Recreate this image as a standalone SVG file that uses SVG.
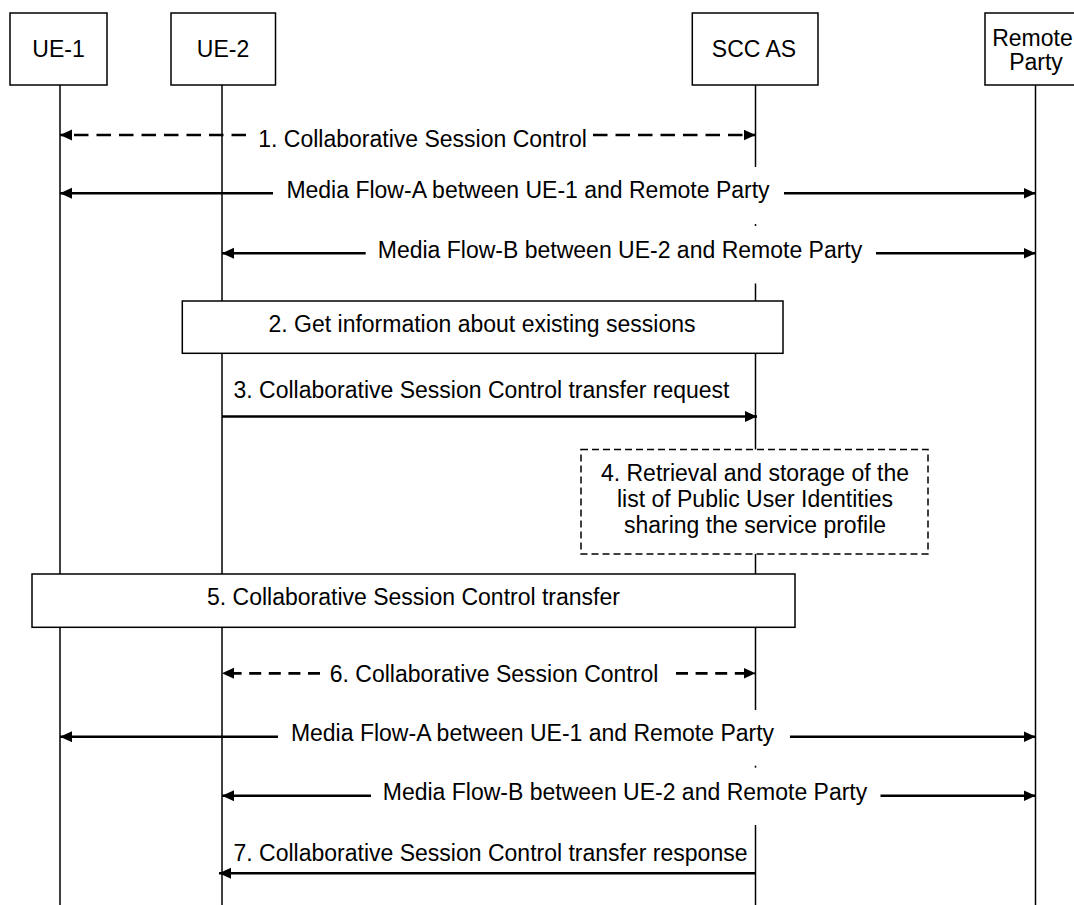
<svg xmlns="http://www.w3.org/2000/svg" width="1074" height="905" viewBox="0 0 1074 905">
<style>
  text { font-family: "Liberation Sans", Arial, sans-serif; font-size: 23px; fill: #000; }
  .mid { text-anchor: middle; }
  .box { fill: #fff; stroke: #000; stroke-width: 1.5; }
  .dbox { fill: #fff; stroke: #000; stroke-width: 1.5; stroke-dasharray: 7 4; }
  .life { stroke: #000; stroke-width: 1.5; fill: none; }
  .msg { stroke: #000; stroke-width: 2.5; fill: none; }
  .dash1 { stroke: #000; stroke-width: 2.7; fill: none; stroke-dasharray: 14.5 8; }
  .dash6 { stroke: #000; stroke-width: 2.7; fill: none; stroke-dasharray: 12 7.6; }
</style>
<defs>
  <marker id="ah" markerUnits="userSpaceOnUse" markerWidth="13" markerHeight="12" refX="12" refY="5.5" orient="auto">
    <path d="M0,0 L12,5.5 L0,11 z" fill="#000" stroke="none"/>
  </marker>
</defs>
<rect width="1074" height="905" fill="#fff"/>

<g id="lifelines">
  <line class="life" x1="60" y1="85" x2="60" y2="905"/>
  <line class="life" x1="222" y1="85" x2="222" y2="905"/>
  <line class="life" x1="755.5" y1="85" x2="755.5" y2="167"/>
  <line class="life" x1="755.5" y1="224" x2="755.5" y2="226"/>
  <line class="life" x1="755.5" y1="283.5" x2="755.5" y2="710"/>
  <line class="life" x1="755.5" y1="765.7" x2="755.5" y2="767.7"/>
  <line class="life" x1="755.5" y1="825" x2="755.5" y2="905"/>
  <line class="life" x1="1035.5" y1="85" x2="1035.5" y2="905"/>
</g>

<g id="node-ue1">
  <rect class="box" x="10" y="13" width="97" height="72"/>
  <text class="mid" x="58.5" y="57">UE-1</text>
</g>
<g id="node-ue2">
  <rect class="box" x="171" y="13" width="104.5" height="72"/>
  <text class="mid" x="223" y="57">UE-2</text>
</g>
<g id="node-sccas">
  <rect class="box" x="692.3" y="13" width="125.7" height="72"/>
  <text class="mid" x="754" y="57">SCC AS</text>
</g>
<g id="node-remote">
  <rect class="box" x="985" y="13" width="102" height="72"/>
  <text class="mid" x="1032.5" y="45.5">Remote</text>
  <text class="mid" x="1036" y="69.5">Party</text>
</g>

<g id="connectors">
  <!-- 1 -->
  <path class="dash1" d="M246,135 L60,135" marker-end="url(#ah)"/>
  <path class="dash1" d="M593,135 L755.5,135" marker-end="url(#ah)"/>
  <text class="mid" x="422.5" y="147">1. Collaborative Session Control</text>
  <!-- Media A top -->
  <path class="msg" d="M273,193.3 L60,193.3" marker-end="url(#ah)"/>
  <path class="msg" d="M784,193.3 L1035.5,193.3" marker-end="url(#ah)"/>
  <text class="mid" x="528" y="198.3">Media Flow-A between UE-1 and Remote Party</text>
  <!-- Media B top -->
  <path class="msg" d="M365.7,253.3 L222,253.3" marker-end="url(#ah)"/>
  <path class="msg" d="M876,253.3 L1035.5,253.3" marker-end="url(#ah)"/>
  <text class="mid" x="620" y="257.5">Media Flow-B between UE-2 and Remote Party</text>
  <!-- 3 -->
  <path class="msg" d="M222,416.5 L757,416.5" marker-end="url(#ah)"/>
  <text class="mid" x="481.5" y="398">3. Collaborative Session Control transfer request</text>
  <!-- 6 -->
  <path class="dash6" d="M320,673.3 L222,673.3" marker-end="url(#ah)"/>
  <path class="dash6" d="M676,673.3 L755.5,673.3" marker-end="url(#ah)"/>
  <text class="mid" x="494" y="681.7">6. Collaborative Session Control</text>
  <!-- Media A bottom -->
  <path class="msg" d="M278,736.7 L60,736.7" marker-end="url(#ah)"/>
  <path class="msg" d="M790,736.7 L1035.5,736.7" marker-end="url(#ah)"/>
  <text class="mid" x="532.5" y="741">Media Flow-A between UE-1 and Remote Party</text>
  <!-- Media B bottom -->
  <path class="msg" d="M371,795.7 L222,795.7" marker-end="url(#ah)"/>
  <path class="msg" d="M880.5,795.7 L1035.5,795.7" marker-end="url(#ah)"/>
  <text class="mid" x="625" y="800">Media Flow-B between UE-2 and Remote Party</text>
  <!-- 7 -->
  <path class="msg" d="M755.5,873.3 L219,873.3" marker-end="url(#ah)"/>
  <text class="mid" x="490.5" y="861">7. Collaborative Session Control transfer response</text>
</g>

<g id="node-step2">
  <rect class="box" x="182.3" y="301" width="600.7" height="52.3"/>
  <text class="mid" x="482" y="331.7">2. Get information about existing sessions</text>
</g>
<g id="node-step4">
  <rect class="dbox" x="581" y="449.5" width="347" height="104.5"/>
  <text class="mid" x="755" y="480.5">4. Retrieval and storage of the</text>
  <text class="mid" x="755" y="507">list of Public User Identities</text>
  <text class="mid" x="755" y="533">sharing the service profile</text>
</g>
<g id="node-step5">
  <rect class="box" x="32" y="574" width="763" height="53.3"/>
  <text class="mid" x="413.5" y="605">5. Collaborative Session Control transfer</text>
</g>
</svg>
